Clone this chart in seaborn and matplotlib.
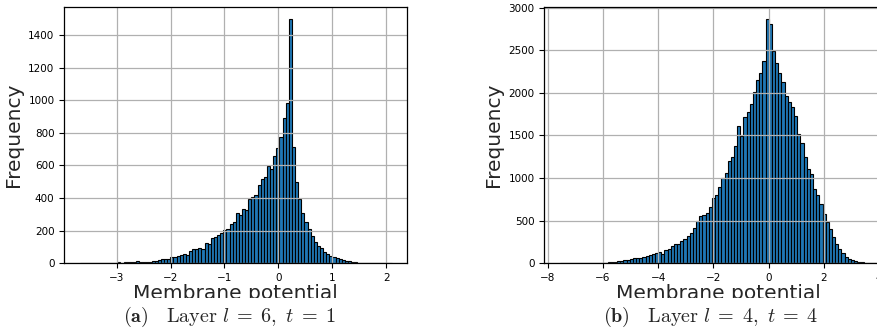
import numpy as np
import pandas as pd
import seaborn as sns
import matplotlib.pyplot as plt
from matplotlib.patches import Rectangle

# histogram (a): layer 6, t = 1 -> 100 bins between -3.68 and 2.10
rango_a = (-3.68, 2.10)
cuentas_a = [
    1, 0, 1, 1, 2, 1, 2, 2, 3, 2,
    3, 4, 5, 4, 6, 7, 10, 8, 13, 8,
    9, 8, 8, 12, 16, 20, 25, 27, 27, 41,
    37, 43, 49, 57, 51, 78, 90, 86, 92, 88,
    127, 119, 153, 160, 172, 186, 204, 212, 239, 253,
    306, 296, 331, 324, 394, 408, 416, 478, 516, 531,
    598, 578, 661, 708, 776, 892, 984, 1496, 712, 499,
    397, 311, 252, 211, 168, 133, 106, 92, 72, 55,
    45, 41, 31, 27, 18, 16, 12, 8, 6, 4,
    3, 2, 2, 1, 1, 1, 1, 0, 0, 1,
]

# histogram (b): layer 4, t = 4 -> 100 bins between -7.55 and 3.90
rango_b = (-7.55, 3.90)
cuentas_b = [
    1, 1, 2, 1, 2, 3, 3, 4, 4, 5,
    5, 6, 7, 8, 9, 10, 11, 15, 23, 31,
    35, 39, 46, 58, 62, 66, 70, 82, 93, 109,
    122, 130, 110, 150, 170, 200, 225, 230, 260, 290,
    320, 355, 418, 500, 555, 566, 586, 664, 762, 801,
    898, 996, 1055, 1203, 1250, 1370, 1605, 1495, 1711, 1777,
    1867, 2005, 2148, 2227, 2371, 2860, 2812, 2492, 2344, 2227,
    2129, 1965, 1895, 1836, 1727, 1516, 1406, 1250, 1109, 1047,
    875, 797, 695, 574, 484, 398, 310, 232, 166, 123,
    78, 51, 39, 23, 16, 12, 8, 5, 3, 2,
]

subtitulos = [r"$\mathbf{(a)}\quad\mathrm{Layer}\ l\;=\;6,\ t\;=\;1$",
              r"$\mathbf{(b)}\quad\mathrm{Layer}\ l\;=\;4,\ t\;=\;4$"]
yticks_a = np.arange(0, 1401, 200)
yticks_b = np.arange(0, 3001, 500)

sns.set_style("ticks")
plt.rcParams['mathtext.fontset'] = 'cm'
plt.rcParams['axes.axisbelow'] = 'line'   # grid por encima de las barras

fig = plt.figure(figsize=(8.78, 3.28), dpi=100)
ax_a = fig.add_axes([0.0732, 0.1973, 0.3907, 0.7805])
ax_b = fig.add_axes([0.6200, 0.1973, 0.3960, 0.7805])

for ax, rango, cuentas, yt in [(ax_a, rango_a, cuentas_a, yticks_a),
                               (ax_b, rango_b, cuentas_b, yticks_b)]:
    bordes = np.linspace(rango[0], rango[1], len(cuentas) + 1)
    df = pd.DataFrame({'potencial': (bordes[:-1] + bordes[1:]) / 2,
                       'cuenta': cuentas})
    sns.histplot(data=df, x='potencial', weights='cuenta', bins=len(cuentas),
                 binrange=rango, ax=ax,
                 color='#1f77b4', edgecolor='black', linewidth=0.8, alpha=1)
    ax.set_yticks(yt)
    ax.grid(True, color='#b0b0b0', linewidth=0.9)
    ax.tick_params(labelsize=7.5, colors='black')
    for s in ax.spines.values():
        s.set_color('black')
        s.set_linewidth(0.9)
    ax.set_xlabel('Membrane potential', fontsize=14.5, labelpad=0.5)
    ax.set_ylabel('Frequency', fontsize=14.5)

ax_a.set_xticks([-3, -2, -1, 0, 1, 2])
ax_b.set_xticks([-8, -6, -4, -2, 0, 2, 4])

# la imagen original viene recortada justo debajo del xlabel
fig.add_artist(Rectangle((0, 0), 1, 30 / 328, transform=fig.transFigure,
                         facecolor='white', edgecolor='none', zorder=5))
fig.text(230 / 878, 1 - 317 / 328, subtitulos[0], ha='center', va='center',
         fontsize=14.5, zorder=6)
fig.text(711 / 878, 1 - 317 / 328, subtitulos[1], ha='center', va='center',
         fontsize=14.5, zorder=6)

fig.savefig('out.png', dpi=100)
